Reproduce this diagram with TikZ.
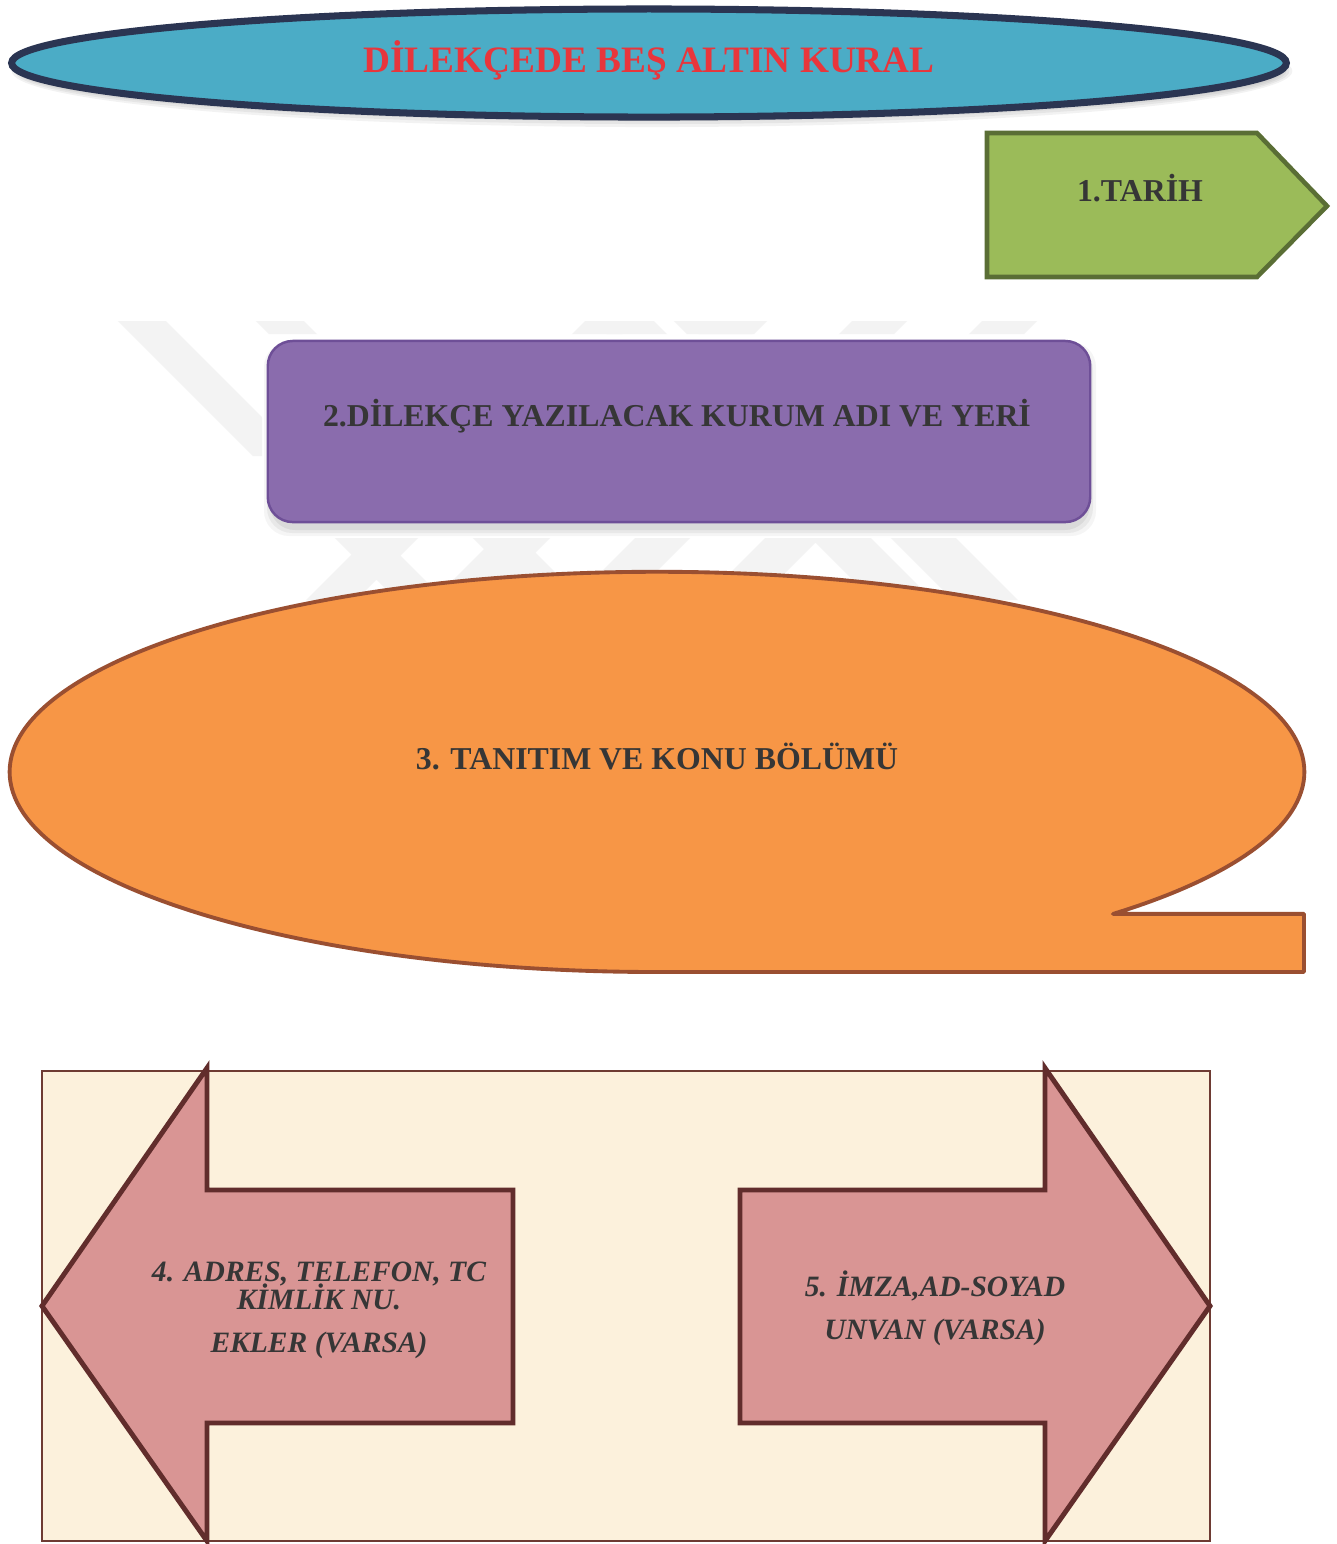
\documentclass[tikz,border=0pt]{standalone}
\usepackage{fontspec}
\setmainfont{Liberation Serif}
\usetikzlibrary{shapes.geometric}
\definecolor{titlefill}{HTML}{4BACC6}
\definecolor{titleline}{HTML}{2B3552}
\definecolor{titlered}{HTML}{E8363C}
\definecolor{greenfill}{HTML}{9BBB59}
\definecolor{greenline}{HTML}{5A6E35}
\definecolor{txtgray}{HTML}{363636}
\definecolor{purplefill}{HTML}{8A6CAD}
\definecolor{purpleline}{HTML}{6E4F97}
\definecolor{orangefill}{HTML}{F79646}
\definecolor{orangeline}{HTML}{9A4F31}
\definecolor{creamfill}{HTML}{FCF1DC}
\definecolor{creamline}{HTML}{6E3B33}
\definecolor{pinkfill}{HTML}{D99594}
\definecolor{pinkline}{HTML}{612D2C}
\definecolor{wmark}{HTML}{F3F3F3}
\begin{document}
\begin{tikzpicture}[x=0.01cm,y=0.01cm,
  titleshape/.style={ellipse, draw=titleline, fill=titlefill, line width=2pt,
    minimum width=12.74cm, minimum height=1.08cm, inner sep=0pt},
  titletext/.style={text=titlered, font=\bfseries\fontsize{10.6pt}{12pt}\selectfont, inner sep=0pt},
  greenshape/.style={draw=greenline, fill=greenfill, line width=1.3pt},
  purplebox/.style={draw=purpleline, fill=purplefill, line width=0.7pt, rounded corners=0.25cm,
    minimum width=8.22cm, minimum height=1.81cm, inner sep=0pt},
  boxtext/.style={text=txtgray, font=\bfseries\fontsize{9.05pt}{11pt}\selectfont, inner sep=0pt},
  orangeshape/.style={draw=orangeline, fill=orangefill, line width=1.1pt, line join=round},
  creambox/.style={draw=creamline, fill=creamfill, line width=0.5pt},
  pinkarrow/.style={draw=pinkline, fill=pinkfill, line width=1.4pt, line join=miter},
  arrowtext/.style={text=txtgray, font=\bfseries\itshape\fontsize{8.4pt}{10pt}\selectfont, inner sep=0pt},
  wm/.style={fill=wmark}
]
\useasboundingbox (0,0) rectangle (1337,-1544);
\fill[white] (0,0) rectangle (1337,-1544);

% faint watermark stripes
\begin{scope}
  \clip (100,-321) rectangle (1100,-334) (100,-334) rectangle (262,-456) (250,-538) rectangle (1100,-600);
  % "\" stripes
  \foreach \a/\w in {119/48, 257/48, 595/60, 675/65}
    \fill[wm] (\a-22,-300) -- (\a-22+\w,-300) -- (\a+298+\w,-620) -- (\a+298,-620) -- cycle;
  % "/" stripes
  \foreach \a/\w in {573/50, 700/55, 840/55, 970/55}
    \fill[wm] (\a+33,-300) -- (\a+33+\w,-300) -- (\a-287+\w,-620) -- (\a-287,-620) -- cycle;
\end{scope}

% title ellipse shadow
\foreach \i/\o in {0/0.05,3/0.05,6/0.05,9/0.04}
  \fill[black,opacity=\o] (652,-71) ellipse [x radius=6.40cm-\i*0.01cm, y radius=0.56cm-\i*0.01cm];
\node[titleshape] (title) at (649,-63) {};
\node[titletext, anchor=base] (titletxt) at (649,-72) {DİLEKÇEDE BEŞ ALTIN KURAL};

% 1. Tarih
\draw[greenshape] (987,-133) -- (1257,-133) -- (1327,-206) -- (1257,-277) -- (987,-277) -- cycle;
\node[boxtext, anchor=base] (tarih) at (1140,-201) {1.TARİH};

% 2. Kurum
\foreach \i/\o in {0/0.06,3/0.05,6/0.04}
  \fill[black,opacity=\o, rounded corners=0.25cm] (270-\i,-348+\i) rectangle (1090+\i,-530-\i);
\node[purplebox] (kurum) at (679,-431.5) {};
\node[boxtext, anchor=base] (kurumtxt) at (677,-426) {2.DİLEKÇE YAZILACAK KURUM ADI VE YERİ};

% 3. Tanitim callout
\draw[orangeshape] (1112.9,-913.9) -- (1304,-913.9) -- (1304,-972) -- (657,-972)
  arc[start angle=270, end angle=-45.2, x radius=6.47cm, y radius=2cm] -- cycle;
\node[boxtext, anchor=base] (tanitim) at (657,-769) {3. TANITIM VE KONU BÖLÜMÜ};

% bottom panel
\draw[creambox] (42,-1071) rectangle (1210,-1541);
\draw[pinkarrow] (42,-1306) -- (207,-1068) -- (207,-1190) -- (513,-1190) -- (513,-1423) -- (207,-1423) -- (207,-1541) -- cycle;
\draw[pinkarrow] (740,-1190) -- (1045,-1190) -- (1045,-1068) -- (1210,-1306) -- (1045,-1541) -- (1045,-1423) -- (740,-1423) -- cycle;

\node[arrowtext, anchor=base] (adres1) at (319,-1281) {4. ADRES, TELEFON, TC};
\node[arrowtext, anchor=base] (adres2) at (319,-1309) {KİMLİK NU.};
\node[arrowtext, anchor=base] (adres3) at (319,-1352) {EKLER (VARSA)};
\node[arrowtext, anchor=base] (imza1) at (935,-1296) {5. İMZA,AD-SOYAD};
\node[arrowtext, anchor=base] (imza2) at (935,-1339) {UNVAN (VARSA)};
\end{tikzpicture}
\end{document}
